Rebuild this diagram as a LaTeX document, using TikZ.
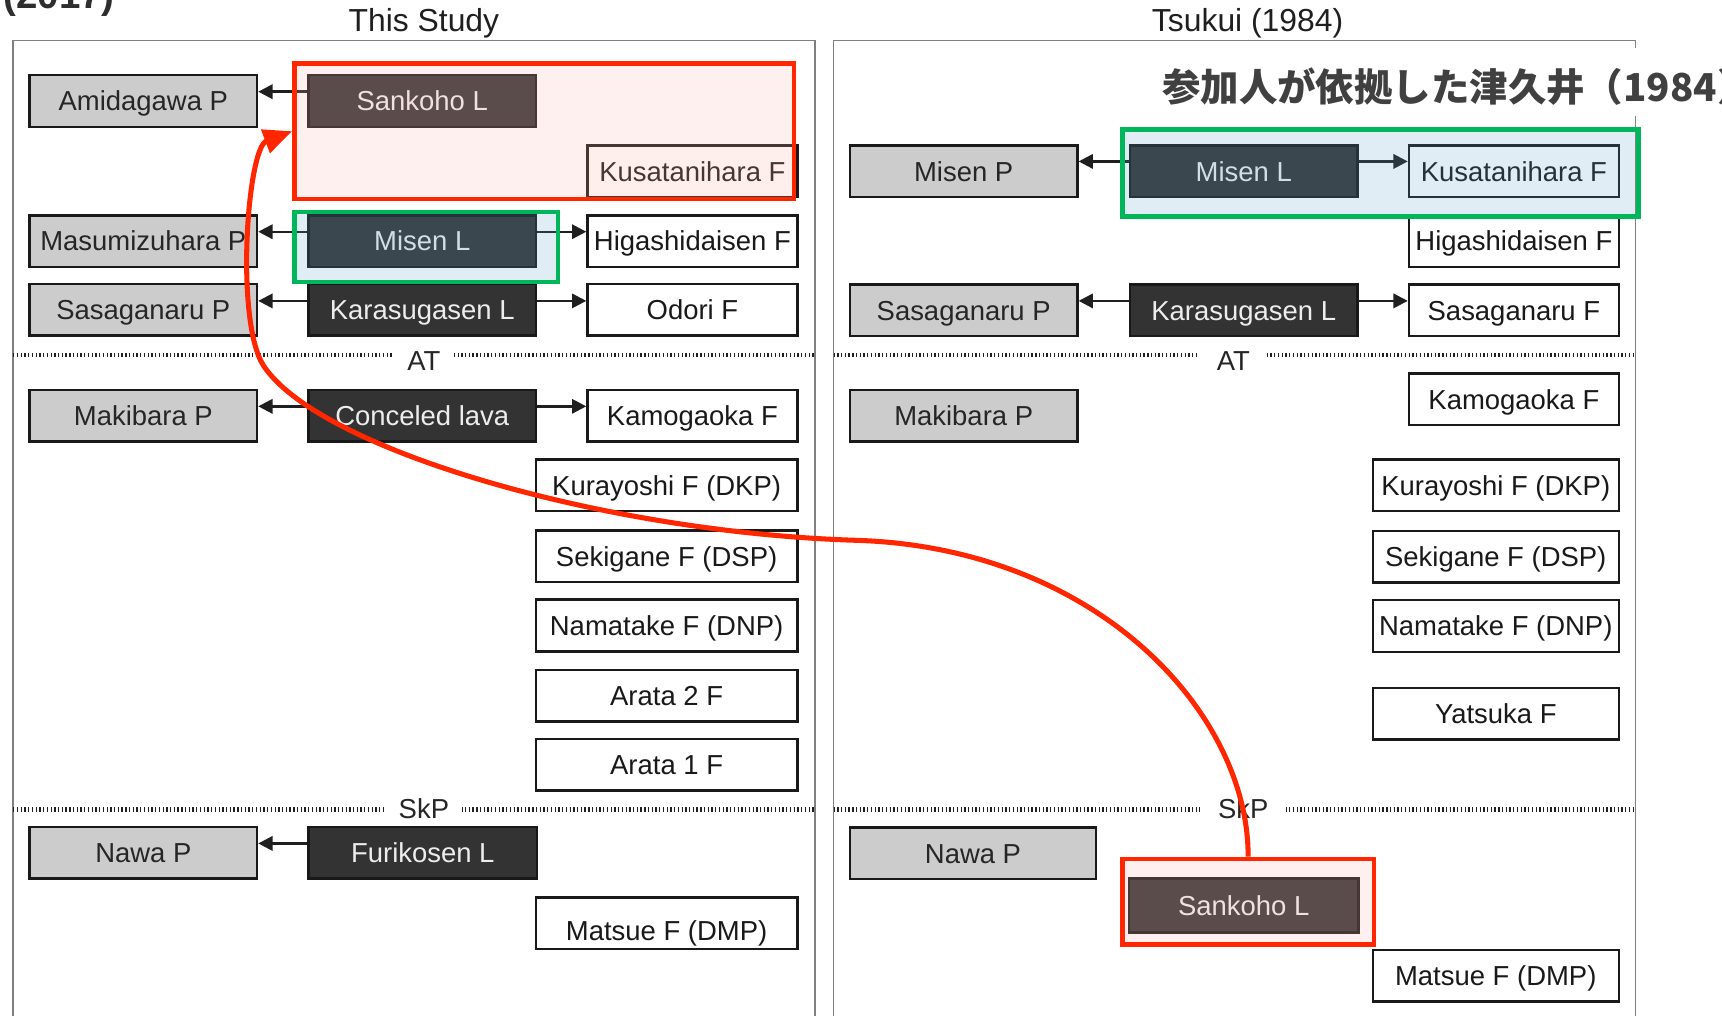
\documentclass[tikz,border=0pt]{standalone}
\usepackage{fontspec}
\setmainfont{Liberation Sans}
\newfontfamily\cjk{Noto Sans CJK JP}
\usetikzlibrary{arrows.meta}

\definecolor{pfill}{HTML}{CCCCCC}
\definecolor{ldark}{HTML}{333333}
\definecolor{hlredc}{RGB}{255,38,0}
\definecolor{hlgreenc}{RGB}{0,182,90}
\definecolor{tintred}{RGB}{250,178,168}
\definecolor{tintblue}{RGB}{93,161,198}

\tikzset{
  box/.style={draw=black!90, line width=2.3pt, inner sep=0pt, minimum height=47pt,
    text height=18pt, text depth=0pt, font=\fontsize{25}{30}\selectfont},
  pbox/.style={box, fill=pfill, text=black!85, minimum width=207pt},
  lbox/.style={box, fill=ldark, text=white!93!black, minimum width=207pt},
  fbox/.style={box, fill=white, text=black!90, minimum width=191pt},
  fwide/.style={box, fill=white, text=black!90, minimum width=238pt},
  fwider/.style={fwide, minimum width=224pt},
  link/.style={draw=black!88, line width=2.2pt, -{Triangle[length=13pt,width=13pt]}},
  panel/.style={draw=black!50, line width=1.3pt},
  sepline/.style={draw=black!88, line width=4pt, dash pattern=on 1.2pt off 2.2pt},
  seplabel/.style={fill=white, inner xsep=12pt, inner ysep=3pt, text height=18pt,
    text depth=0pt, font=\fontsize{25}{30}\selectfont, text=black!85},
  paneltitle/.style={font=\fontsize{29}{34}\selectfont, text=black!88},
  hlred/.style={draw=hlredc, line width=4pt, fill=tintred, fill opacity=0.2, inner sep=0pt},
  hlgreen/.style={draw=hlgreenc, line width=4pt, fill=tintblue, fill opacity=0.19, inner sep=0pt},
  marker/.style={draw=hlredc, line width=4.6pt, -{Triangle[length=26pt,width=22pt]}},
}

\begin{document}
\begin{tikzpicture}[x=1pt,y=-1pt]
\useasboundingbox (0,0) rectangle (1568,925);
\clip (0,0) rectangle (1568,925);

% ---- panels and titles ----
\draw[panel] (12,37) rectangle (742,1000);
\draw[panel] (759,37) rectangle (1489,1000);
\node[paneltitle] (titleL) at (386,21) {This Study};
\node[paneltitle] (titleR) at (1136,21) {Tsukui (1984)};
\node[anchor=base west, inner sep=0pt, font=\bfseries\fontsize{35}{40}\selectfont, text=black!82] (year) at (3,8) {(2017)};

% ---- tephra marker lines ----
\draw[sepline] (12,323) -- (742,323);
\draw[sepline] (759,323) -- (1489,323);
\draw[sepline] (12,737) -- (742,737);
\draw[sepline] (759,737) -- (1489,737);
\node[seplabel] (atL) at (386,328) {AT};
\node[seplabel, inner xsep=16pt] (atR) at (1123,328) {AT};
\node[seplabel] (skpL) at (386,736) {SkP};
\node[seplabel, inner xsep=16pt] (skpR) at (1132,736) {SkP};

% ---- left column: this study ----
\node[pbox] (amidagawa) at (130.5,92) {Amidagawa P};
\node[lbox] (sankohoA) at (384.5,92) {Sankoho L};
\node[fbox] (kusaA) at (630.5,156) {Kusatanihara F};
\node[pbox] (masumizuhara) at (130.5,219.5) {Masumizuhara P};
\node[lbox] (misenLA) at (384.5,219.5) {Misen L};
\node[fbox] (higashiA) at (630.5,219.5) {Higashidaisen F};
\node[pbox] (sasaPA) at (130.5,282) {Sasaganaru P};
\node[lbox] (karaA) at (384.5,282) {Karasugasen L};
\node[fbox] (odori) at (630.5,282) {Odori F};
\node[pbox] (makiA) at (130.5,378.5) {Makibara P};
\node[lbox] (conceled) at (384.5,378.5) {Conceled lava};
\node[fbox] (kamoA) at (630.5,378.5) {Kamogaoka F};
\node[fwide] (kuraA) at (607,442) {Kurayoshi F (DKP)};
\node[fwide] (sekiA) at (607,506.5) {Sekigane F (DSP)};
\node[fwide] (namaA) at (607,569.5) {Namatake F (DNP)};
\node[fwide] (arata2) at (607,633.5) {Arata 2 F};
\node[fwide] (arata1) at (607,696.5) {Arata 1 F};
\node[pbox] (nawaA) at (130.5,776.5) {Nawa P};
\node[lbox, minimum width=208pt] (furikosen) at (385,776.5) {Furikosen L};
\node[fwide, text height=31pt] (matsueA) at (607,840.5) {Matsue F (DMP)};

\draw[link] ([yshift=8.5pt]sankohoA.west) -- ([yshift=8.5pt]amidagawa.east);
\draw[link] ([yshift=8.5pt]misenLA.west) -- ([yshift=8.5pt]masumizuhara.east);
\draw[link] ([yshift=8.5pt]misenLA.east) -- ([yshift=8.5pt]higashiA.west);
\draw[link] ([yshift=8pt]karaA.west) -- ([yshift=8pt]sasaPA.east);
\draw[link] ([yshift=8pt]karaA.east) -- ([yshift=8pt]odori.west);
\draw[link] ([yshift=8.5pt]conceled.west) -- ([yshift=8.5pt]makiA.east);
\draw[link] ([yshift=8.5pt]conceled.east) -- ([yshift=8.5pt]kamoA.west);
\draw[link] ([yshift=8.5pt]furikosen.west) -- ([yshift=8.5pt]nawaA.east);

% ---- right column: Tsukui (1984) ----
\node[pbox] (misenP) at (877.5,156) {Misen P};
\node[lbox] (misenLB) at (1132.5,156) {Misen L};
\node[fbox] (kusaB) at (1378.5,156) {Kusatanihara F};
\node[fbox] (higashiB) at (1378.5,219.5) {Higashidaisen F};
\node[pbox] (sasaPB) at (877.5,282.5) {Sasaganaru P};
\node[lbox] (karaB) at (1132.5,282.5) {Karasugasen L};
\node[fbox] (sasaF) at (1378.5,282.5) {Sasaganaru F};
\node[pbox] (makiB) at (877.5,378.5) {Makibara P};
\node[fbox] (kamoB) at (1378.5,363.5) {Kamogaoka F};
\node[fwider] (kuraB) at (1362,442) {Kurayoshi F (DKP)};
\node[fwider] (sekiB) at (1362,507) {Sekigane F (DSP)};
\node[fwider] (namaB) at (1362,570) {Namatake F (DNP)};
\node[fwider] (yatsuka) at (1362,650) {Yatsuka F};
\node[pbox, minimum width=224pt] (nawaB) at (886,777) {Nawa P};
\node[lbox, minimum width=209pt, minimum height=49pt] (sankohoB) at (1132.5,824.5) {Sankoho L};
\node[fwider] (matsueB) at (1362,888.5) {Matsue F (DMP)};

\draw[link] ([yshift=9pt]misenLB.west) -- ([yshift=9pt]misenP.east);
\draw[link] ([yshift=9pt]misenLB.east) -- ([yshift=9pt]kusaB.west);
\draw[link] ([yshift=8.5pt]karaB.west) -- ([yshift=8.5pt]sasaPB.east);
\draw[link] ([yshift=8.5pt]karaB.east) -- ([yshift=8.5pt]sasaF.west);

% ---- highlight frames ----
\node[hlred, minimum width=455pt, minimum height=123pt] (hlSkA) at (495.5,119.5) {};
\node[hlgreen, minimum width=240pt, minimum height=64pt] (hlMiA) at (388,225) {};
\node[hlgreen, minimum width=470pt, minimum height=79pt] (hlMiB) at (1257,157.5) {};
\node[hlred, minimum width=229pt, minimum height=78pt] (hlSkB) at (1136.5,821) {};

% ---- caption over the right panel ----
\fill[white] (1050,44) rectangle (1568,106);
\node[anchor=base west, inner sep=0pt, text=black!75,
  font=\cjk\bfseries\fontsize{35}{40}\selectfont] (note) at (1058,92) {参加人が依拠した津久井（1984）};

% ---- correlation curve ----
\draw[marker] (hlSkB.north)
  .. controls (1137,650) and (1000,499) .. (780,492)
  .. controls (550,485) and (290,409) .. (240,333)
  .. controls (214,293) and (225,135) .. (hlSkA.west);
\end{tikzpicture}
\end{document}
